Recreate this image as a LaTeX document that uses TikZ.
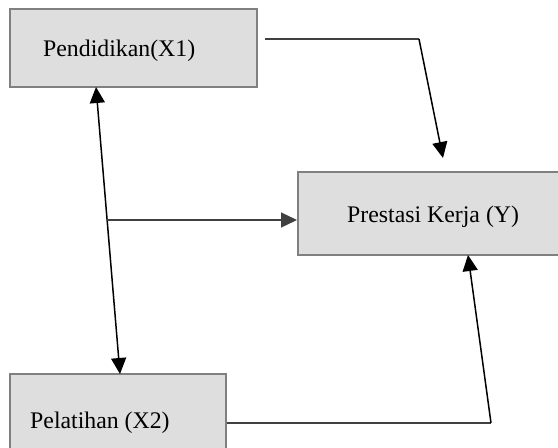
\documentclass[tikz,border=0pt]{standalone}
\usepackage{fontspec}
\setmainfont{Liberation Serif}
\usetikzlibrary{arrows.meta}
\tikzset{
  box/.style={draw=black!50, line width=2pt, fill=black!13, rectangle, inner sep=0pt},
  lbl/.style={anchor=base west, inner sep=0pt, font=\fontsize{23.8}{27}\selectfont},
  conn/.style={line width=1.5pt, black},
  hconn/.style={line width=1.3pt, black!75},
  tip/.style={-{Triangle[length=16pt,width=15pt]}},
  dtip/.style={{Triangle[length=16pt,width=15pt]}-{Triangle[length=16pt,width=15pt]}}
}
\begin{document}
\begin{tikzpicture}[x=1pt,y=-1pt]
\useasboundingbox (0,0) rectangle (558,448);
\clip (0,0) rectangle (558,448);
\fill[white] (0,0) rectangle (558,448);
% boxes
\node[box, minimum width=247pt, minimum height=78pt] (X1) at (133.5,48) {};
\node[box, minimum width=280pt, minimum height=83pt] (Y) at (438,213.5) {};
\node[box, minimum width=216pt, minimum height=90pt] (X2) at (118,419) {};
% texts
\node[lbl] (tX1) at (43,56) {Pendidikan(X1)};
\node[lbl] (tY) at (347,222) {Prestasi Kerja (Y)};
\node[lbl] (tX2) at (30,428) {Pelatihan (X2)};
% coordinates
\coordinate (a1) at (265,39);
\coordinate (a2) at (419,39);
\coordinate (a3) at (443,158);
\coordinate (p1) at (96,87);
\coordinate (p2) at (120,374);
\coordinate (h1) at (107,220);
\coordinate (h2) at (Y.west |- h1);
\coordinate (b1) at (X2.east |- 0,423);
\coordinate (b2) at (491,423);
\coordinate (b3) at (468,255);
% connectors
\draw[hconn] (a1) -- (a2);
\draw[conn, tip] (a2) -- (a3);
\draw[conn, dtip] (p1) -- (p2);
\draw[hconn, tip] (h1) -- (h2);
\draw[hconn] (b1) -- (b2);
\draw[conn, tip] (b2) -- (b3);
\end{tikzpicture}
\end{document}
